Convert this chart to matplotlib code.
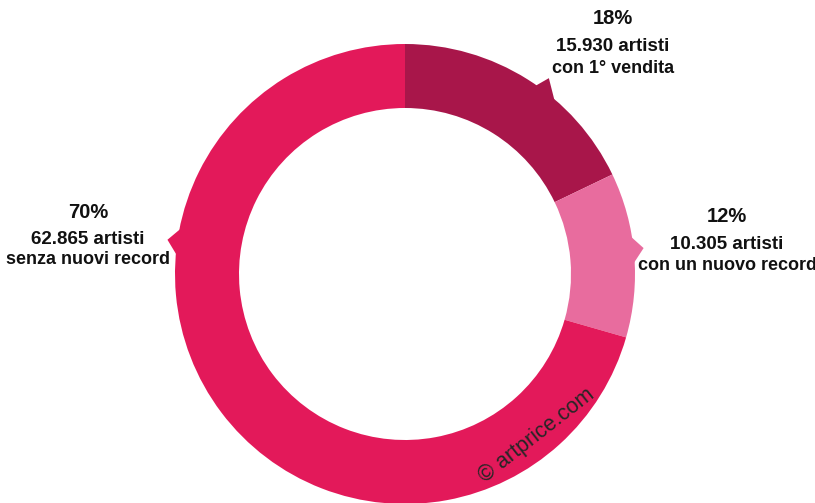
import matplotlib.pyplot as plt
import numpy as np

# artisti venduti per segmento
labels_desc = ["con 1° vendita", "con un nuovo record", "senza nuovi record"]
counts = [15930, 10305, 62865]
pcts = [18, 12, 70]
colors = ["#A8164A", "#E86C9E", "#E3195A"]

W, H = 815, 503
CX, CY = 405, H - 274
R_OUT, R_IN = 230, 166

fig = plt.figure(figsize=(W / 100, H / 100), dpi=100)
ax = fig.add_axes([0, 0, 1, 1])

ax.pie(counts, colors=colors, startangle=90, counterclock=False,
       radius=R_OUT, center=(CX, CY),
       wedgeprops=dict(width=R_OUT - R_IN, linewidth=0))


def polar(theta, r):
    # theta in degrees, clockwise from 12 o'clock
    t = np.radians(theta)
    return CX + r * np.sin(t), CY + r * np.cos(t)


def pointer(theta_base, half, theta_tip, r_tip, color):
    pts = [polar(theta_base - half, R_OUT - 3),
           polar(theta_tip, r_tip),
           polar(theta_base + half, R_OUT - 3)]
    ax.add_patch(plt.Polygon(pts, closed=True, color=color, lw=0))


pointer(38, 3.5, 36.3, 243, colors[0])
pointer(84, 4, 83.8, 240, colors[1])
pointer(278, 4, 278.2, 240, colors[2])

font = dict(family=["Liberation Sans", "DejaVu Sans"],
            weight="bold", color="#111111", ha="center", va="center")

# label anchors: x, y of percentage line, y of the two text lines
anchors = [(613, 18, 46, 68), (727, 216, 244, 265), (88, 212, 239, 260)]
for (x, y0, y1, y2), pct, n, desc in zip(anchors, pcts, counts, labels_desc):
    ax.text(x, H - y0, f"{pct}%", fontsize=14.5, **font)
    ax.text(x, H - y1, f"{n:,}".replace(",", ".") + " artisti",
            fontsize=13.5, **font)
    ax.text(x, H - y2, desc, fontsize=13, **font)

ax.text(537, H - 436, "© artprice.com", rotation=38, rotation_mode="anchor",
        ha="center", va="center", fontsize=15.5, color="#262626",
        family="Liberation Sans")

ax.set_xlim(0, W)
ax.set_ylim(0, H)
ax.set_aspect("equal")
ax.axis("off")

fig.savefig("out.png", dpi=100)
